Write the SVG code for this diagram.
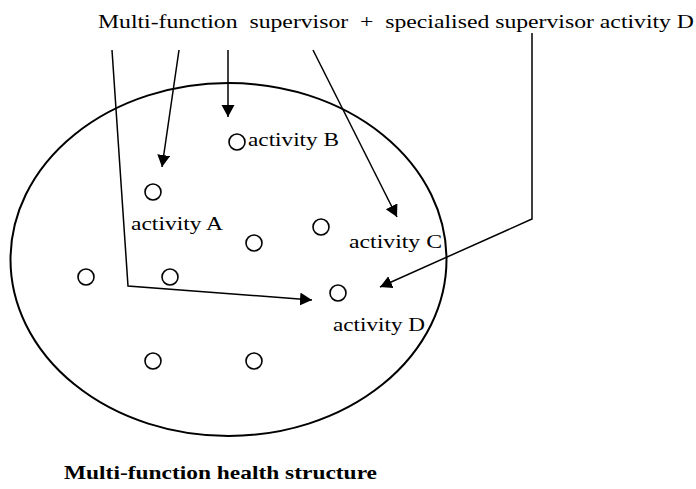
<svg xmlns="http://www.w3.org/2000/svg" width="696" height="489" viewBox="0 0 696 489">
  <style>
    .t { font-family: "Liberation Serif", "Times New Roman", serif; font-size: 19px; fill: #000; }
    .b { font-weight: bold; }
    .act { fill: #fff; stroke: #000; stroke-width: 1.6; }
    .con { fill: none; stroke: #000; stroke-width: 1.5; }
    .struct { fill: none; stroke: #000; stroke-width: 2; }
  </style>
  <defs>
    <marker id="ah" markerUnits="userSpaceOnUse" markerWidth="13" markerHeight="14" refX="12" refY="6.5" orient="auto">
      <path d="M0,0 L12,6.5 L0,13 z" fill="#000"/>
    </marker>
  </defs>
  <rect width="696" height="489" fill="#fff"/>

  <g id="structure">
    <ellipse class="struct" cx="228.5" cy="259.5" rx="218" ry="176.5"/>
  </g>

  <g id="supervisor">
    <text class="t" x="98" y="28" textLength="596" lengthAdjust="spacingAndGlyphs" xml:space="preserve">Multi-function  supervisor  +  specialised supervisor activity D</text>
  </g>

  <g id="activity-b">
    <circle class="act" cx="237" cy="142" r="8"/>
    <text class="t" x="248" y="146" textLength="91" lengthAdjust="spacingAndGlyphs">activity B</text>
  </g>
  <g id="activity-a">
    <circle class="act" cx="153" cy="192" r="8"/>
    <text class="t" x="131" y="230" textLength="92" lengthAdjust="spacingAndGlyphs">activity A</text>
  </g>
  <g id="activity-c">
    <circle class="act" cx="321" cy="227" r="8"/>
    <text class="t" x="349" y="248" textLength="93" lengthAdjust="spacingAndGlyphs">activity C</text>
  </g>
  <g id="activity-d">
    <circle class="act" cx="338" cy="293" r="8"/>
    <text class="t" x="333" y="331" textLength="92" lengthAdjust="spacingAndGlyphs">activity D</text>
  </g>
  <g id="activity-5"><circle class="act" cx="254" cy="243" r="8"/></g>
  <g id="activity-6"><circle class="act" cx="86" cy="277" r="8"/></g>
  <g id="activity-7"><circle class="act" cx="170" cy="277" r="8"/></g>
  <g id="activity-8"><circle class="act" cx="153" cy="361" r="8"/></g>
  <g id="activity-9"><circle class="act" cx="254" cy="361" r="8"/></g>

  <g id="caption">
    <text class="t b" x="64" y="479" textLength="313" lengthAdjust="spacingAndGlyphs">Multi-function health structure</text>
  </g>

  <g id="connectors">
    <polyline class="con" points="112,50 128,286 312,300" marker-end="url(#ah)"/>
    <line class="con" x1="179" y1="50" x2="162" y2="167" marker-end="url(#ah)"/>
    <line class="con" x1="228" y1="50" x2="228" y2="117" marker-end="url(#ah)"/>
    <line class="con" x1="313" y1="50" x2="397" y2="217" marker-end="url(#ah)"/>
    <polyline class="con" points="532,33 532,219 380,287" marker-end="url(#ah)"/>
  </g>
</svg>
